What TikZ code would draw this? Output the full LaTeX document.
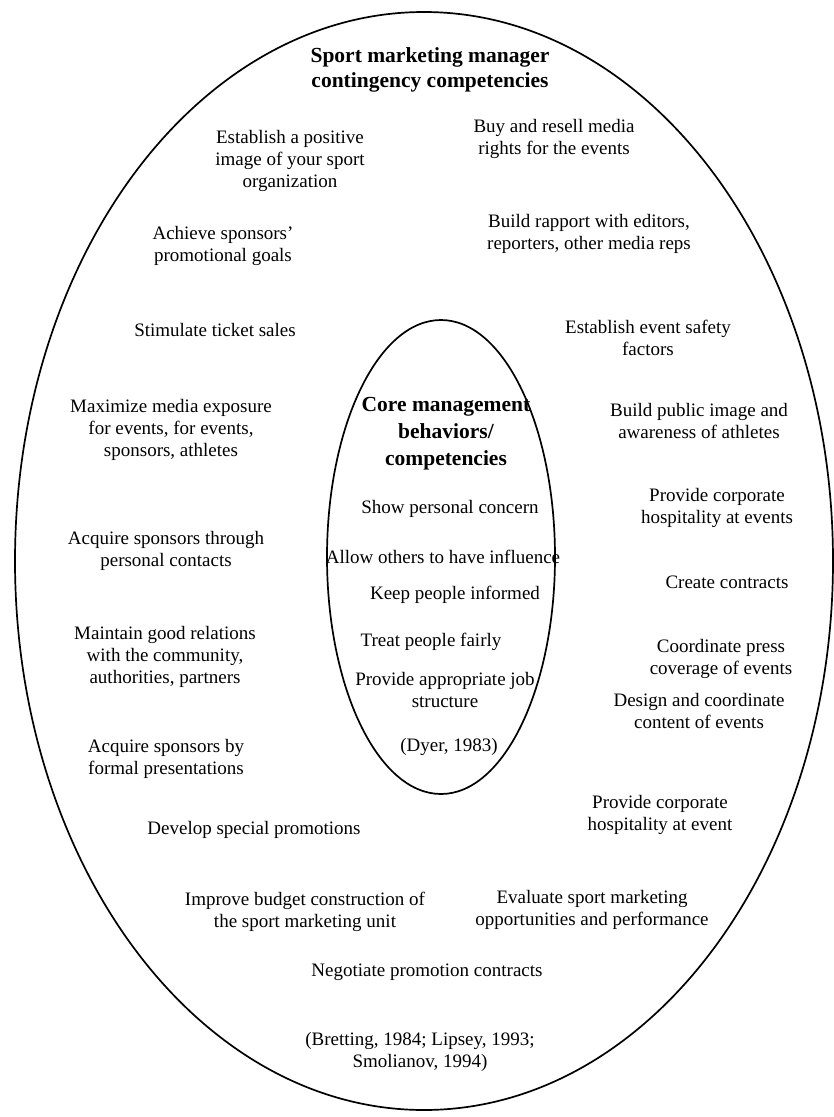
\documentclass[tikz,border=0pt]{standalone}
\usepackage{fontspec}
\setmainfont{Liberation Serif}
\begin{document}
\begin{tikzpicture}[x=1pt,y=-1pt,
  txt/.style={align=center, font=\fontsize{19}{22}\selectfont, inner sep=0pt},
  head/.style={align=center, font=\bfseries\fontsize{21.5}{25}\selectfont, inner sep=0pt},
  core/.style={align=center, font=\bfseries\fontsize{21.5}{27}\selectfont, inner sep=0pt},
  ring/.style={draw, line width=1.7pt}]
\useasboundingbox (0,0) rectangle (834,1117);

% outer and inner boundaries
\draw[ring] (424,561) ellipse [x radius=409pt, y radius=549pt];
\draw[ring] (441,557) ellipse [x radius=114pt, y radius=237pt];

% outer field: contingency competencies
\node[head] (title) at (430,70) {Sport marketing manager\\contingency competencies};
\node[txt] (image) at (290,161) {Establish a positive\\image of your sport\\organization};
\node[txt] (rights) at (554,139) {Buy and resell media\\rights for the events};
\node[txt] (goals) at (223,246) {Achieve sponsors'\\promotional goals};
\node[txt] (rapport) at (589,234) {Build rapport with editors,\\reporters, other media reps};
\node[txt] (tickets) at (215,330) {Stimulate ticket sales};
\node[txt] (safety) at (648,338) {Establish event safety\\factors};
\node[txt] (media) at (171,430) {Maximize media exposure\\for events, for events,\\sponsors, athletes};
\node[txt] (public) at (699,421) {Build public image and\\awareness of athletes};
\node[txt] (hosp1) at (717,508) {Provide corporate\\hospitality at events};
\node[txt] (personal) at (166,551) {Acquire sponsors through\\personal contacts};
\node[txt] (contracts) at (727,582) {Create contracts};
\node[txt] (relations) at (165,657) {Maintain good relations\\with the community,\\authorities, partners};
\node[txt] (press) at (721,659) {Coordinate press\\coverage of events};
\node[txt] (content) at (699,711) {Design and coordinate\\content of events};
\node[txt] (formal) at (166,759) {Acquire sponsors by\\formal presentations};
\node[txt] (hosp2) at (660,815) {Provide corporate\\hospitality at event};
\node[txt] (special) at (254,830) {Develop special promotions};
\node[txt] (budget) at (305,912) {Improve budget construction of\\the sport marketing unit};
\node[txt] (evaluate) at (592,910) {Evaluate sport marketing\\opportunities and performance};
\node[txt] (negotiate) at (427,972) {Negotiate promotion contracts};
\node[txt] (refs) at (420,1052) {(Bretting, 1984; Lipsey, 1993;\\Smolianov, 1994)};

% inner field: core behaviours
\node[core] (core) at (446,434) {Core management\\behaviors/\\competencies};
\node[txt] (concern) at (450,509) {Show personal concern};
\node[txt] (influence) at (443,557) {Allow others to have influence};
\node[txt] (informed) at (455,595) {Keep people informed};
\node[txt] (fair) at (431,642) {Treat people fairly};
\node[txt] (structure) at (445,690) {Provide appropriate job\\structure};
\node[txt] (dyer) at (449,747) {(Dyer, 1983)};
\end{tikzpicture}
\end{document}
